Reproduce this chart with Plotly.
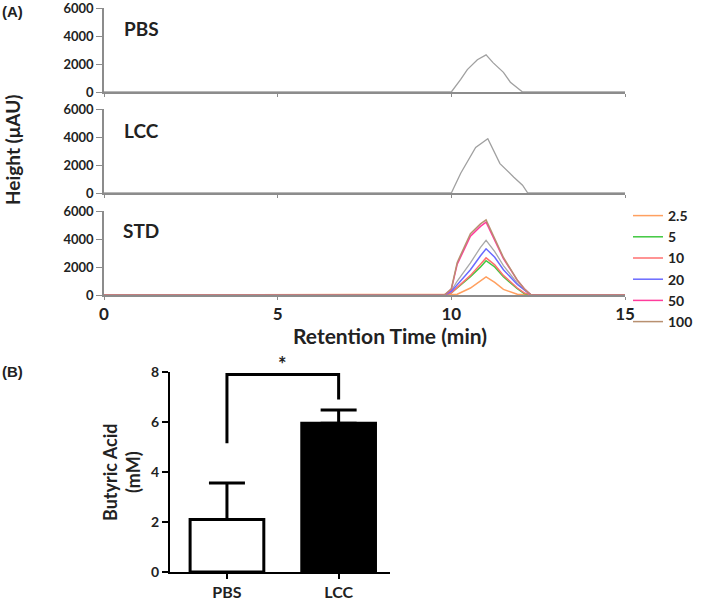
import plotly.graph_objects as go

# ---------------- data ----------------
# Chromatogram time points (min)
t_pbs = [0, 9.9, 10.0, 10.27, 10.46, 10.75, 11.0, 11.2, 11.5, 11.7, 12.05, 15]
h_pbs = [0, 0, 0, 900, 1600, 2300, 2650, 2100, 1400, 700, 0, 0]

t_lcc = [0, 9.9, 10.0, 10.27, 10.7, 11.05, 11.4, 11.8, 12.05, 12.2, 15]
h_lcc = [0, 0, 0, 1410, 3250, 3880, 2100, 1130, 560, 0, 0]

t_std = [0, 9.8, 10.0, 10.17, 10.55, 10.84, 11.0, 11.25, 11.5, 11.9, 12.1, 12.3, 15]
std_labels = ["2.5", "5", "10", "20", "50", "100"]
std_values = {
    "2.5": [0, 0, 0, 50, 500, 1000, 1300, 900, 400, 50, 0, 0, 0],
    "5":   [0, 0, 150, 500, 1300, 2000, 2450, 2000, 1300, 450, 100, 0, 0],
    "10":  [0, 0, 150, 550, 1400, 2200, 2650, 2150, 1400, 500, 150, 0, 0],
    "20":  [0, 0, 250, 750, 1800, 2800, 3300, 2700, 1800, 750, 350, 0, 0],
    "50":  [0, 0, 400, 2200, 4200, 4900, 5200, 3900, 2600, 1050, 450, 0, 0],
    "100": [0, 0, 450, 2330, 4380, 5080, 5360, 4000, 2680, 1060, 450, 0, 0],
}
std_extra = [0, 0, 300, 1000, 2300, 3400, 3900, 3100, 2100, 850, 350, 0, 0]
std_colors = ["#FFA060", "#40C840", "#FF7070", "#6A6AFF", "#FF3C9C", "#B89070"]

# Panel B
groups = ["PBS", "LCC"]
butyric = [2.1, 5.95]
butyric_err = [1.46, 0.53]
bracket_y = 7.9
bracket_low = [5.15, 6.9]

# ---------------- figure ----------------
W, H = 709, 601
def px(x):
    return x / W
def py(y):
    return 1 - y / H

fig = go.Figure()
FAM = "Lato, Open Sans, sans-serif"
BF = dict(family=FAM, size=13, color="#222", weight="bold")

fig.add_trace(go.Scatter(x=t_pbs, y=h_pbs, mode="lines", line=dict(color="#A0A0A0", width=1.3),
                         xaxis="x", yaxis="y", showlegend=False))
fig.add_trace(go.Scatter(x=t_lcc, y=h_lcc, mode="lines", line=dict(color="#A0A0A0", width=1.3),
                         xaxis="x2", yaxis="y2", showlegend=False))
fig.add_trace(go.Scatter(x=t_std, y=std_extra, mode="lines", line=dict(color="#A8A8A8", width=1.3),
                         xaxis="x3", yaxis="y3", showlegend=False))
for lab, col in zip(std_labels, std_colors):
    fig.add_trace(go.Scatter(x=t_std, y=std_values[lab], mode="lines", name=lab,
                             line=dict(color=col, width=1.5), xaxis="x3", yaxis="y3"))

fig.add_trace(go.Bar(x=[0, 1], y=butyric, width=0.66,
                     marker=dict(color=["white", "black"], line=dict(color="black", width=3)),
                     error_y=dict(type="data", array=butyric_err, arrayminus=[0, 0], symmetric=False,
                                  color="black", thickness=3, width=18),
                     xaxis="x4", yaxis="y4", showlegend=False))

xdom = [px(104), px(625)]
ydoms = [[py(92), py(8)], [py(193), py(109)], [py(295), py(211)]]
axcol = "#8C8C8C"
for i, dom in enumerate(ydoms):
    sfx = "" if i == 0 else str(i + 1)
    fig.layout["xaxis" + sfx] = dict(domain=xdom, range=[0, 15], anchor="y" + sfx,
                                     showline=True, linecolor=axcol, linewidth=1.5,
                                     ticks="outside", ticklen=3, tickcolor=axcol,
                                     tickvals=[0, 5, 10, 15], showticklabels=(i == 2),
                                     showgrid=False, zeroline=False, automargin=False,
                                     ticklabeloverflow="allow",
                                     tickfont=dict(BF, size=17))
    fig.layout["yaxis" + sfx] = dict(domain=dom, range=[0, 6000], anchor="x" + sfx,
                                     showline=True, linecolor=axcol, linewidth=1.5,
                                     ticks="outside", ticklen=6, tickcolor=axcol,
                                     tickvals=[0, 2000, 4000, 6000], showgrid=False,
                                     zeroline=False, automargin=False,
                                     ticklabeloverflow="allow",
                                     tickfont=dict(BF, size=13))

fig.layout["xaxis4"] = dict(domain=[px(170), px(390)], range=[-0.51, 1.46], anchor="y4",
                            showline=True, linecolor="black", linewidth=2,
                            ticks="outside", ticklen=5, tickwidth=2, tickcolor="black",
                            tickvals=[0, 1], ticktext=groups, showgrid=False, zeroline=False,
                            automargin=False, ticklabeloverflow="allow",
                            tickfont=dict(BF, size=16))
fig.layout["yaxis4"] = dict(domain=[py(572), py(372)], range=[0, 8], anchor="x4",
                            showline=True, linecolor="black", linewidth=2,
                            ticks="outside", ticklen=6, tickwidth=2, tickcolor="black",
                            tickvals=[0, 2, 4, 6, 8], showgrid=False, zeroline=False,
                            automargin=False, ticklabeloverflow="allow",
                            tickfont=dict(BF, size=14))

# significance bracket
fig.add_shape(type="path", xref="x4", yref="y4",
              path=f"M 0 {bracket_low[0]} L 0 {bracket_y} L 1 {bracket_y} L 1 {bracket_low[1]}",
              line=dict(color="black", width=3))

ann = [
    dict(text="(A)", x=px(0), y=py(12), xanchor="left", yanchor="middle",
         font=dict(family="Liberation Sans, Arial", size=15, color="#222")),
    dict(text="(B)", x=px(0), y=py(371), xanchor="left", yanchor="middle",
         font=dict(family="Liberation Sans, Arial", size=15, color="#222")),
    dict(text="PBS", x=px(122), y=py(29), xanchor="left", yanchor="middle", font=dict(BF, size=19)),
    dict(text="LCC", x=px(122), y=py(130), xanchor="left", yanchor="middle", font=dict(BF, size=19)),
    dict(text="STD", x=px(121), y=py(230), xanchor="left", yanchor="middle", font=dict(BF, size=19)),
    dict(text="Height (μAU)", x=px(12), y=py(150), textangle=-90, xanchor="center", yanchor="middle",
         font=dict(BF, size=19)),
    dict(text="Retention Time (min)", x=px(390), y=py(336), xanchor="center", yanchor="middle",
         font=dict(BF, size=21)),
    dict(text="Butyric Acid<br>(mM)", x=px(121), y=py(472), textangle=-90, xanchor="center",
         yanchor="middle", font=dict(BF, size=18)),
    dict(text="*", x=0.5, y=bracket_y, xref="x4", yref="y4", yanchor="bottom", yshift=-3,
         showarrow=False, font=dict(BF, size=20)),
]
for a in ann:
    a.setdefault("xref", "paper")
    a.setdefault("yref", "paper")
    a["showarrow"] = False
    fig.add_annotation(**a)

fig.update_layout(
    width=W, height=H, margin=dict(l=0, r=0, t=0, b=0),
    paper_bgcolor="white", plot_bgcolor="white",
    font=BF,
    legend=dict(x=px(628), y=py(200), xanchor="left", yanchor="top",
                font=dict(BF, size=14), tracegroupgap=0, itemwidth=30,
                bgcolor="rgba(0,0,0,0)"),
)

# remove the browser's default 8px body margin so the figure fills the window
fig.write_html("out.html", config={"displayModeBar": False},
               post_script="document.body.style.margin='0px';")
